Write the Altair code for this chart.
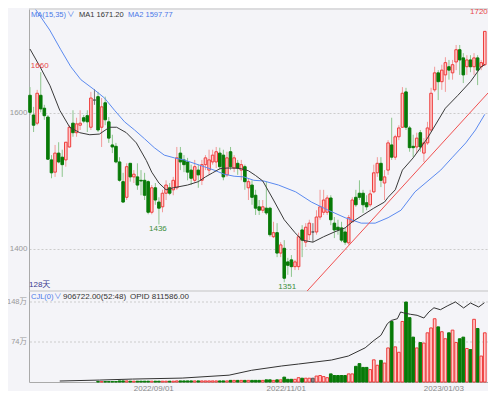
import altair as alt
import pandas as pd

# ---------------- data ----------------
opens = [1626, 1597, 1585, 1626, 1607, 1594, 1531, 1513, 1541, 1535,
         1531, 1550, 1585, 1571, 1582, 1593, 1596, 1579, 1619, 1624,
         1579, 1615, 1587, 1553, 1551, 1528, 1499, 1476, 1526, 1506,
         1506, 1501, 1501, 1499, 1454, 1490, 1469, 1462, 1482, 1490,
         1487, 1490, 1541, 1531, 1528, 1516, 1501, 1516, 1501, 1524,
         1516, 1528, 1528, 1541, 1538, 1509, 1543, 1519, 1526, 1516,
         1521, 1490, 1494, 1479, 1462, 1457, 1460, 1460, 1418, 1424,
         1394, 1401, 1381, 1384, 1374, 1374, 1428, 1410, 1421, 1425,
         1425, 1447, 1454, 1454, 1475, 1438, 1432, 1431, 1425, 1409,
         1440, 1476, 1482, 1482, 1468, 1465, 1484, 1512, 1526, 1497,
         1516, 1553, 1535, 1565, 1579, 1631, 1578, 1551, 1550, 1571,
         1541, 1556, 1575, 1634, 1659, 1646, 1656, 1668, 1659, 1675,
         1693, 1681, 1668, 1678, 1668, 1681, 1668, 1671]
highs = [1638, 1609, 1634, 1660, 1612, 1597, 1538, 1553, 1557, 1546,
         1557, 1582, 1604, 1593, 1604, 1597, 1604, 1631, 1635, 1631,
         1622, 1624, 1594, 1568, 1556, 1535, 1512, 1526, 1526, 1516,
         1526, 1516, 1512, 1501, 1494, 1497, 1476, 1487, 1501, 1497,
         1506, 1550, 1550, 1538, 1534, 1524, 1531, 1524, 1531, 1538,
         1546, 1546, 1550, 1549, 1546, 1543, 1550, 1538, 1531, 1531,
         1524, 1504, 1501, 1487, 1472, 1472, 1499, 1462, 1440, 1438,
         1410, 1413, 1387, 1391, 1384, 1424, 1435, 1438, 1443, 1438,
         1457, 1487, 1487, 1479, 1479, 1447, 1443, 1440, 1431, 1450,
         1476, 1487, 1501, 1487, 1479, 1487, 1524, 1535, 1535, 1516,
         1560, 1593, 1568, 1582, 1638, 1637, 1581, 1568, 1571, 1575,
         1563, 1587, 1637, 1668, 1663, 1671, 1682, 1678, 1678, 1700,
         1700, 1688, 1685, 1685, 1688, 1685, 1678, 1720]
lows = [1597, 1572, 1582, 1601, 1590, 1531, 1504, 1506, 1526, 1506,
        1521, 1549, 1565, 1565, 1575, 1585, 1572, 1575, 1612, 1572,
        1550, 1582, 1556, 1541, 1526, 1499, 1468, 1472, 1499, 1497,
        1487, 1479, 1472, 1451, 1451, 1465, 1436, 1454, 1472, 1479,
        1479, 1487, 1516, 1513, 1501, 1494, 1497, 1490, 1494, 1516,
        1509, 1524, 1519, 1516, 1501, 1506, 1516, 1513, 1509, 1501,
        1487, 1472, 1465, 1450, 1450, 1453, 1450, 1418, 1416, 1388,
        1388, 1351, 1362, 1359, 1369, 1369, 1388, 1403, 1413, 1410,
        1421, 1443, 1450, 1450, 1435, 1416, 1421, 1410, 1406, 1406,
        1440, 1462, 1472, 1453, 1457, 1462, 1482, 1506, 1491, 1472,
        1509, 1531, 1531, 1560, 1578, 1575, 1543, 1535, 1541, 1543,
        1528, 1553, 1572, 1631, 1619, 1634, 1631, 1649, 1649, 1663,
        1656, 1644, 1656, 1660, 1656, 1641, 1663, 1669]
closes = [1601, 1582, 1629, 1606, 1596, 1532, 1512, 1541, 1528, 1524,
          1557, 1579, 1571, 1584, 1585, 1588, 1587, 1622, 1619, 1575,
          1609, 1590, 1563, 1550, 1528, 1501, 1469, 1521, 1506, 1510,
          1494, 1500, 1479, 1454, 1490, 1472, 1460, 1482, 1494, 1482,
          1501, 1534, 1528, 1524, 1513, 1504, 1521, 1509, 1524, 1534,
          1531, 1538, 1543, 1521, 1506, 1534, 1521, 1534, 1519, 1524,
          1499, 1499, 1476, 1460, 1457, 1462, 1453, 1421, 1424, 1394,
          1406, 1357, 1376, 1374, 1381, 1418, 1413, 1432, 1438, 1425,
          1447, 1462, 1472, 1475, 1443, 1428, 1428, 1413, 1410, 1446,
          1472, 1465, 1476, 1465, 1462, 1481, 1512, 1526, 1501, 1506,
          1556, 1535, 1565, 1578, 1629, 1579, 1549, 1549, 1563, 1550,
          1556, 1578, 1629, 1659, 1646, 1663, 1674, 1663, 1671, 1693,
          1678, 1656, 1678, 1668, 1681, 1663, 1674, 1720]
# volume in 万
volumes = [0, 0, 0, 0, 0, 0, 0, 0, 0, 0,
           0, 0, 0, 0, 0, 0, 0, 0, 0, 0.8,
           0.8, 0.8, 0.8, 0.8, 0.8, 2, 2, 2, 1.5, 1.5,
           1.5, 1.5, 1.5, 1.5, 1.5, 1.5, 1.5, 1.5, 1.5, 1.5,
           1.5, 2, 2, 2, 2, 2, 2, 2, 2, 2,
           2, 2, 2, 2, 2, 2, 3, 3, 3, 3,
           3, 3, 3, 3, 3, 3, 4, 4, 3, 4,
           4, 9, 5, 5, 5, 8, 7, 7, 7, 7,
           11, 12, 10, 8, 15, 12, 12, 12, 12, 15,
           15, 29, 34, 27, 27, 23, 41, 31, 40, 35,
           63, 112, 65, 55, 112, 148, 119, 83, 63, 73,
           72, 91, 100, 117, 102, 93, 80, 91, 96, 73,
           80, 83, 62, 60, 116, 99, 48, 91]

# MA lines (index, value)
ma1_idx = [0, 2.8, 5.6, 8.3, 11.1, 13.9, 16.7, 19.4, 22.2, 24.2,
           26.9, 29.7, 32.5, 34, 36, 38, 40, 44, 47, 49,
           51, 53, 55, 57, 59, 61, 63, 65, 68, 71,
           74, 76, 79, 82, 85, 88, 90, 93, 96, 99,
           100, 102, 104, 107, 111, 116, 119.5, 123, 126, 127]
ma1_val = [1694, 1668, 1640, 1604, 1579, 1571, 1568, 1569, 1579, 1579,
           1571, 1556, 1530, 1513, 1497, 1487, 1490, 1494, 1499, 1506,
           1512, 1518, 1519, 1519, 1518, 1515, 1508, 1500, 1472, 1443,
           1424, 1413, 1410, 1418, 1425, 1431, 1440, 1450, 1460, 1469,
           1476, 1487, 1516, 1534, 1563, 1607, 1626, 1646, 1668, 1671]
ma2_idx = [1.6, 5.5, 8.6, 11.4, 14.2, 18, 20.8, 23.6, 26.4, 29.2,
           32, 34.7, 37.5, 40.3, 43, 45.8, 48.6, 51.4, 54.2, 57,
           59.7, 62.5, 65.3, 69.4, 74.2, 78.6, 83.3, 88, 92.5, 96.4,
           100, 103.6, 107.5, 114.7, 118, 121.7, 124.4, 127]
ma2_val = [1752, 1722, 1693, 1668, 1649, 1634, 1622, 1604, 1587, 1575,
           1562, 1549, 1538, 1534, 1531, 1526, 1521, 1516, 1510, 1507,
           1506, 1501, 1500, 1494, 1484, 1469, 1457, 1446, 1438, 1438,
           1446, 1457, 1484, 1516, 1535, 1556, 1575, 1598]
# open interest (万)
oi_idx = [8.3, 19.4, 28.6, 42.5, 55.6, 61.9, 70.3, 75, 84.2, 88.9,
          93.6, 96.1, 98, 99.8, 100.9, 102.6, 103.5, 104.4, 106.3, 108.1,
          110, 111.4, 112.8, 114.6, 116.5, 118.8, 121.1, 123, 125.3, 126.9]
oi_val = [1, 2, 3, 4, 7, 12, 16.4, 18.4, 22.5, 26.6,
          35, 42.7, 47.8, 59.7, 63, 64.8, 71.7, 70.7, 69.3, 68.3,
          65.5, 71.7, 76, 74, 77.8, 82, 75.8, 80.9, 76.8, 81.2]
# trend line drawn on the chart
trend_idx = [77.4, 127.9]
trend_val = [1338.2, 1629.4]

date_ticks = [34, 71, 115]
date_labels = ["2022/09/01", "2022/11/01", "2023/01/03"]
price_ticks = [1400, 1600]
vol_ticks = [74, 148]
panel_split = [1338.2]          # price at the border between the two panels

# extreme-value labels
hi_idx = [3, 127]
hi_val = [1660, 1720]
hi_pos = [1669, 1748.5]
lo_idx = [36, 71]
lo_val = [1436, 1351]
lo_pos = [1429.4, 1344.5]

# ---------------- build ----------------
FONT = "Liberation Sans, Arial, Noto Sans CJK SC, sans-serif"
W, H = 459, 373
XDOM = [-0.28, 127.9]
PDOM = [1204.4, 1752.9]        # price scale over the whole plot height
VDOM = [0, 690.1]              # volume (万) over the whole plot height
ODOM = [0, 381.9]              # open interest (万)

n = len(opens)
df = pd.DataFrame({"i": list(range(n)), "open": opens, "high": highs,
                   "low": lows, "close": closes, "vol": volumes})
df["dir"] = ["up" if c > o else ("down" if c < o else "flat")
             for o, c in zip(opens, closes)]

dirs = ["up", "down", "flat"]
wick_sc = alt.Scale(domain=dirs, range=["#f29a9a", "#8cc58c", "#777777"])
fill_sc = alt.Scale(domain=dirs, range=["#ffc8c8", "#087a08", "#888888"])
stroke_sc = alt.Scale(domain=dirs, range=["#ee3c3c", "#087a08", "#555555"])

xs = alt.Scale(domain=XDOM, nice=False, zero=False)
ps = alt.Scale(domain=PDOM, nice=False, zero=False)
vs = alt.Scale(domain=VDOM, nice=False, zero=True)
os_ = alt.Scale(domain=ODOM, nice=False, zero=True)

x_axis = alt.Axis(values=date_ticks, labelExpr=" : ".join(
    [f"datum.value == {t} ? '{l}'" for t, l in zip(date_ticks, date_labels)]) + " : ''",
    labelFontSize=8, labelColor="#888888", labelFont=FONT, tickSize=0,
    labelPadding=2, labelOffset=1.5, domainColor="#aaaaaa", grid=False, title=None,
    labelFlush=False)
y_price_axis = alt.Axis(values=price_ticks, format="d", grid=True, gridDash=[2, 2],
                        gridColor="#cccccc", labelFontSize=8, labelColor="#999999",
                        labelFont=FONT, tickSize=0, labelPadding=2, domainColor="#aaaaaa",
                        title=None)


def X(f):
    return alt.X(f, scale=xs, axis=x_axis)


def YP(f):
    return alt.Y(f, scale=ps, axis=y_price_axis)


def YV(f):
    return alt.Y(f, scale=vs, axis=None)


# ---- price panel ----
base = alt.Chart(df)
wicks = base.mark_rule(strokeWidth=1).encode(
    x=X("i:Q"), y=YP("low:Q"), y2="high:Q",
    color=alt.Color("dir:N", scale=wick_sc, legend=None))
bodies = base.transform_calculate(
    x0="datum.i - 0.36", x1="datum.i + 0.36"
).mark_bar(strokeWidth=1).encode(
    x=X("x0:Q"), x2="x1:Q", y=YP("open:Q"), y2="close:Q",
    fill=alt.Fill("dir:N", scale=fill_sc, legend=None),
    stroke=alt.Stroke("dir:N", scale=stroke_sc, legend=None))
ma1 = alt.Chart(pd.DataFrame({"i": ma1_idx, "v": ma1_val})).mark_line(
    color="#3a3a3a", strokeWidth=1, clip=True).encode(x=X("i:Q"), y=YP("v:Q"))
ma2 = alt.Chart(pd.DataFrame({"i": ma2_idx, "v": ma2_val})).mark_line(
    color="#5b8af0", strokeWidth=1, clip=True).encode(x=X("i:Q"), y=YP("v:Q"))
trend = alt.Chart(pd.DataFrame({"i": trend_idx, "v": trend_val})).mark_line(
    color="#f05050", strokeWidth=1, clip=True).encode(x=X("i:Q"), y=YP("v:Q"))
split = alt.Chart(pd.DataFrame({"v": panel_split})).mark_rule(
    color="#c4c4c4", strokeWidth=1).encode(y=YP("v:Q"))
top_border = alt.Chart(pd.DataFrame({"v": [PDOM[1]]})).mark_rule(
    color="#c4c4c4", strokeWidth=1).encode(y=YP("v:Q"))

hi_df = pd.DataFrame({"i": hi_idx, "p": hi_pos, "t": [str(v) for v in hi_val]})
lo_df = pd.DataFrame({"i": lo_idx, "p": lo_pos, "t": [str(v) for v in lo_val]})
ann_hi1 = alt.Chart(hi_df.iloc[:1]).mark_text(
    font=FONT, fontSize=8, color="#e84848", baseline="middle", dx=-1).encode(
    x=X("i:Q"), y=YP("p:Q"), text="t:N")
ann_hi2 = alt.Chart(hi_df.iloc[1:]).mark_text(
    font=FONT, fontSize=8, color="#e84848", baseline="middle", align="right", dx=3).encode(
    x=X("i:Q"), y=YP("p:Q"), text="t:N")
ann_lo1 = alt.Chart(lo_df.iloc[:1]).mark_text(
    font=FONT, fontSize=8, color="#3d8f3d", baseline="middle", dx=-1).encode(
    x=X("i:Q"), y=YP("p:Q"), text="t:N")
ann_lo2 = alt.Chart(lo_df.iloc[1:]).mark_text(
    font=FONT, fontSize=8, color="#3d8f3d", baseline="middle", dx=3).encode(
    x=X("i:Q"), y=YP("p:Q"), text="t:N")


def txt(label, px, py, color, size=7.5):
    return alt.Chart(pd.DataFrame({"t": [label]})).mark_text(
        font=FONT, fontSize=size, align="left", baseline="middle", color=color
    ).encode(x=alt.value(px), y=alt.value(py), text="t:N")


texts = [txt("MA(15,35)", 2, 6, "#4a78e8"), txt("\u2228", 38, 6, "#4a78e8"),
         txt("MA1 1671.20", 50, 6, "#333333"), txt("MA2 1597.77", 99, 6, "#4a78e8"),
         txt("128天", 0, 276, "#3a3a90", 8),
         txt("CJL(0)", 2, 288, "#4a78e8"), txt("\u2228", 25, 288, "#4a78e8"),
         txt("906722.00(52:48)", 34, 288, "#333333", 8),
         txt("OPID 811586.00", 101, 288, "#333333", 8)]

price_layer = alt.layer(top_border, split, wicks, bodies, ma2, ma1, trend,
                        ann_hi1, ann_hi2, ann_lo1, ann_lo2, *texts)

# ---- volume panel ----
vol_df = pd.DataFrame({"v": vol_ticks, "t": [f"{v}万" for v in vol_ticks]})
vgrid = alt.Chart(vol_df).mark_rule(color="#cccccc", strokeDash=[2, 2]).encode(
    y=YV("v:Q"))
vlab = alt.Chart(vol_df).mark_text(font=FONT, fontSize=7.5, color="#999999",
                                   align="right", baseline="middle").encode(
    x=alt.value(-2), y=YV("v:Q"), text="t:N")
vbars = alt.Chart(df).transform_filter("datum.vol > 0").transform_calculate(
    x0="datum.i - 0.38", x1="datum.i + 0.38"
).mark_bar(strokeWidth=1).encode(
    x=X("x0:Q"), x2="x1:Q", y=YV("vol:Q"), y2=alt.datum(0),
    fill=alt.Fill("dir:N", scale=fill_sc, legend=None),
    stroke=alt.Stroke("dir:N", scale=stroke_sc, legend=None))
vol_layer = alt.layer(vgrid, vlab, vbars)

oi_layer = alt.Chart(pd.DataFrame({"i": oi_idx, "v": oi_val})).mark_line(
    color="#333333", strokeWidth=1).encode(
    x=X("i:Q"), y=alt.Y("v:Q", scale=os_, axis=None))

chart = alt.layer(price_layer, vol_layer, oi_layer).resolve_scale(
    y="independent"
).properties(
    width=W, height=H,
    autosize=alt.AutoSizeParams(type="none"),
    padding={"left": 21, "top": 1, "right": 0, "bottom": 9},
    background="#f4f4f8",
).configure_view(stroke=None).configure_axis(labelFont=FONT)

chart.save("out.html", embed_options={"renderer": "svg", "actions": False})
